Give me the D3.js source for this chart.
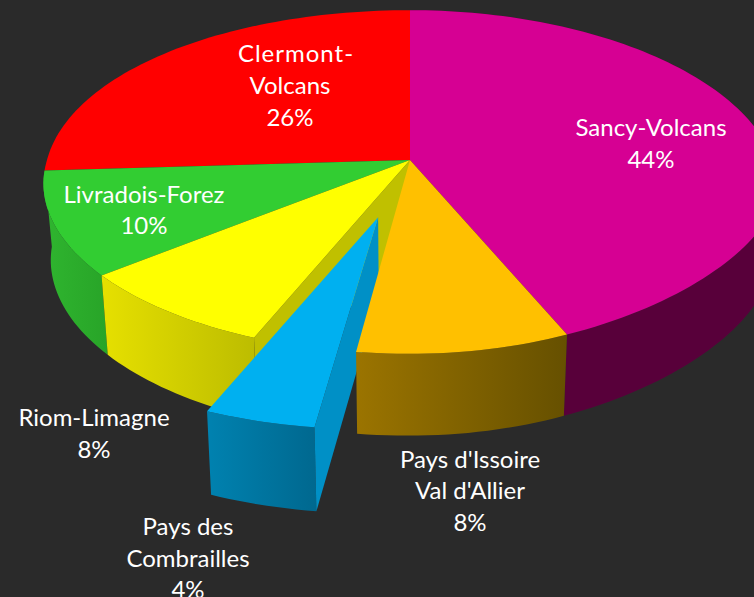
<!DOCTYPE html>
<html><head><meta charset="utf-8">
<script src="https://cdn.jsdelivr.net/npm/d3@7"></script>
<style>html,body{margin:0;padding:0;background:#2a2a2a;overflow:hidden}svg{display:block}
text{font-family:Lato,"Open Sans",sans-serif;font-size:24px;fill:#fff;text-anchor:middle}</style>
</head><body><svg id="c" width="754" height="597"></svg>
<script>
const categories = ["Sancy-Volcans","Pays d'Issoire Val d'Allier","Pays des Combrailles","Riom-Limagne","Livradois-Forez","Clermont-Volcans"];
const shares = [44,8,4,8,10,26];
const pullOut = [0,0,0.335,0,0,0];
const topColors = ["#d60093","#ffc000","#00b0f0","#ffff00","#32cd32","#ff0000"];
const wallFrom = ["#58003a","#9b7400","#0082b0","#e6e000","#2fb52f","#aa0000"];
const wallTo   = ["#58003a","#665000","#00688f","#bcbc00","#28a428","#aa0000"];
const sideWall = ["#58003a","#9b7400","#0090c6","#c0c000","#28a428","#aa0000"];
const labelLines = [["Sancy-Volcans","44%"],["Pays d'Issoire","Val d'Allier","8%"],["Pays des","Combrailles","4%"],["Riom-Limagne","8%"],["Livradois-Forez","10%"],["Clermont-","Volcans","26%"]];
const labelX = [[651,651],[470,470,470],[188,188,188],[94,94],[144,144],[296,290,290]];
const labelY = [[136,168],[468,499,531],[535,567,598],[426,458],[203,234],[62,94,126]];

const svg = d3.select("#c");
const defs = svg.append("defs");
const cx=410, cy=160, bx=363, by=169, kx=0.16, ky=0.128, shrink=0.98;
const px = (X,Z)=>{
  let x=cx+bx*X/(1+kx*Z), y=cy-by*Z/(1+ky*Z);
  if(X>0&&Z<0) y-=30*X*X*(-Z);
  if(X<0&&Z>0) x-=14*(-X)*Z;
  if(X<0&&Z<0){ x+=8*X*X*(-Z); y-=5*X*X*(-Z); }
  return [x,y];
};
const drop = p=>[cx+(p[0]-cx)*shrink, p[1]+76+0.03*(p[1]-cy)];
const pie = d3.pie().sort(null).value(d=>d).startAngle(0).endAngle(2*Math.PI);
const arcs = pie(shares);
const line = d3.line();
function geo(i){
  const a=arcs[i], m=(a.startAngle+a.endAngle)/2, e=pullOut[i];
  const ox=e*Math.sin(m), oz=e*Math.cos(m);
  const n=Math.max(4,Math.ceil((a.endAngle-a.startAngle)*40));
  const rim=d3.range(n+1).map(j=>{
    const t=a.startAngle+(a.endAngle-a.startAngle)*j/n;
    return px(ox+Math.sin(t),oz+Math.cos(t));
  });
  return {apex:px(ox,oz),rim};
}
function wallGrad(i,x0,x1){
  const id="g"+i;
  const g=defs.append("linearGradient").attr("id",id).attr("gradientUnits","userSpaceOnUse")
    .attr("x1",x0).attr("x2",x1).attr("y1",0).attr("y2",0);
  g.append("stop").attr("offset",0).attr("stop-color",wallFrom[i]);
  g.append("stop").attr("offset",1).attr("stop-color",wallTo[i]);
  return `url(#${id})`;
}
function outerWall(i){
  const g=geo(i), r=g.rim;
  const poly=r.concat(r.slice().reverse().map(drop));
  const xs=d3.extent(poly,p=>p[0]);
  svg.append("path").attr("d",line(poly)+"Z").attr("fill",wallGrad(i,xs[0],xs[1]));
}
function sideFace(i,p){
  const g=geo(i);
  const poly=[g.apex,p,drop(p),drop(g.apex)];
  svg.append("path").attr("d",line(poly)+"Z").attr("fill",sideWall[i]);
}
function topFace(i){
  const g=geo(i);
  svg.append("path").attr("d",line([g.apex].concat(g.rim))+"Z").attr("fill",topColors[i]);
}
outerWall(0); outerWall(4); outerWall(3);
sideFace(3,geo(3).rim[0]);
[5,0,4,3].forEach(topFace);
outerWall(2);
sideFace(2,geo(2).rim[0]);
topFace(2);
outerWall(1);
topFace(1);
labelLines.forEach((ls,i)=>ls.forEach((s,j)=>{
  svg.append("text").attr("x",labelX[i][j]).attr("y",labelY[i][j])
    .attr("letter-spacing",s==="Clermont-"?1:null).text(s);
}));
</script></body></html>
